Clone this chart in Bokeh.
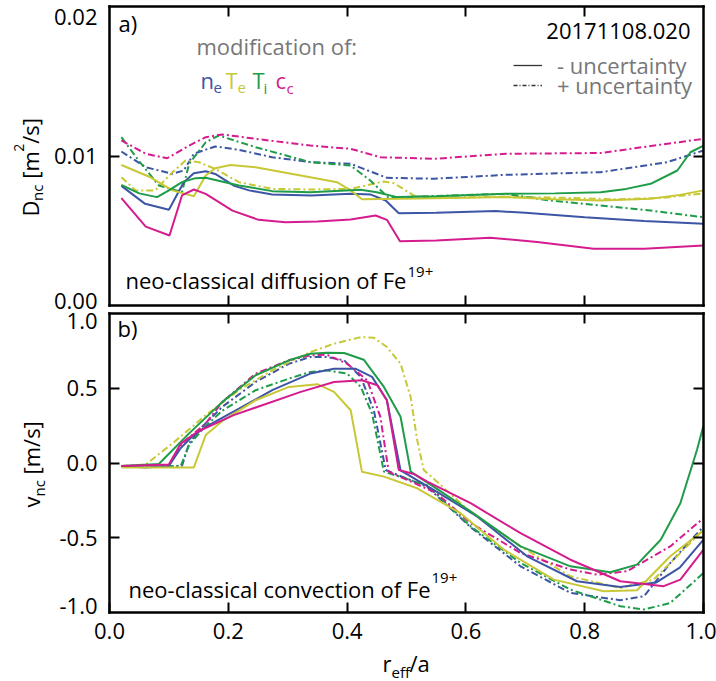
from math import pi, nan
from bokeh.plotting import figure
from bokeh.models import (Range1d, FixedTicker, LinearAxis, Label, Legend, LegendItem,
                          NumeralTickFormatter)
from bokeh.embed import file_html
from bokeh.resources import INLINE

# ---------------- data: panel a) neo-classical diffusion D_nc [m^2/s] ----------------
x_D_ne_minus = [0.02, 0.06, 0.10, 0.125, 0.142, 0.162, 0.178, 0.21, 0.235, 0.274, 0.34, 0.406, 0.44, 0.465, 0.487, 0.55, 0.65, 0.70, 0.80, 0.90, 1.0]
D_ne_minus = [0.0080, 0.0068, 0.0064, 0.00825, 0.00885, 0.00898, 0.0088, 0.0080, 0.0077, 0.00742, 0.00736, 0.00747, 0.00742, 0.00702, 0.00617, 0.0062, 0.00632, 0.0062, 0.0059, 0.00565, 0.00546]

x_D_Te_minus = [0.02, 0.066, 0.106, 0.142, 0.162, 0.178, 0.204, 0.246, 0.338, 0.383, 0.406, 0.425, 0.49, 0.6, 0.667, 0.75, 0.827, 0.911, 0.96, 1.0]
D_Te_minus = [0.0094, 0.00863, 0.0077, 0.00731, 0.0087, 0.00918, 0.0094, 0.00925, 0.00858, 0.00825, 0.0077, 0.00711, 0.00714, 0.0072, 0.00725, 0.0071, 0.00702, 0.00714, 0.0074, 0.0077]

x_D_Ti_minus = [0.02, 0.05, 0.08, 0.10, 0.122, 0.145, 0.162, 0.218, 0.274, 0.338, 0.423, 0.45, 0.484, 0.55, 0.667, 0.75, 0.827, 0.87, 0.911, 0.956, 0.978, 1.0]
D_Ti_minus = [0.00807, 0.0075, 0.00725, 0.0077, 0.00825, 0.00852, 0.00854, 0.00803, 0.00765, 0.00758, 0.00774, 0.00758, 0.00725, 0.0073, 0.00747, 0.0075, 0.00758, 0.0078, 0.00814, 0.00903, 0.01025, 0.0107]

x_D_cc_minus = [0.02, 0.061, 0.101, 0.122, 0.142, 0.162, 0.207, 0.251, 0.296, 0.35, 0.406, 0.448, 0.467, 0.489, 0.55, 0.641, 0.72, 0.815, 0.9, 1.0]
D_cc_minus = [0.00718, 0.00528, 0.00468, 0.00736, 0.00776, 0.00747, 0.00635, 0.00573, 0.00557, 0.00562, 0.00575, 0.00602, 0.00573, 0.0043, 0.00435, 0.00453, 0.00425, 0.00379, 0.00379, 0.00401]

x_D_ne_plus = [0.02, 0.061, 0.106, 0.125, 0.142, 0.178, 0.218, 0.274, 0.338, 0.406, 0.467, 0.546, 0.667, 0.827, 0.939, 1.0]
D_ne_plus = [0.0103, 0.00925, 0.00881, 0.00903, 0.01015, 0.01064, 0.01041, 0.00992, 0.00959, 0.00948, 0.00854, 0.00848, 0.00874, 0.00892, 0.00959, 0.01037]

x_D_Te_plus = [0.02, 0.044, 0.077, 0.106, 0.128, 0.15, 0.178, 0.218, 0.274, 0.338, 0.406, 0.462, 0.479, 0.512, 0.546, 0.667, 0.77, 0.85, 0.93, 1.0]
D_Te_plus = [0.00858, 0.0077, 0.0077, 0.00892, 0.0097, 0.00959, 0.00914, 0.00825, 0.0078, 0.00776, 0.0078, 0.0083, 0.00818, 0.00736, 0.0072, 0.00729, 0.0072, 0.0071, 0.0072, 0.0075]

x_D_Ti_plus = [0.02, 0.049, 0.083, 0.122, 0.134, 0.162, 0.184, 0.246, 0.338, 0.406, 0.439, 0.47, 0.518, 0.667, 0.742, 0.827, 0.911, 1.0]
D_Ti_plus = [0.01126, 0.0097, 0.00803, 0.00758, 0.00948, 0.01092, 0.01137, 0.01059, 0.00959, 0.00936, 0.00836, 0.0072, 0.00729, 0.00747, 0.00702, 0.00669, 0.00635, 0.0059]

x_D_cc_plus = [0.02, 0.061, 0.097, 0.134, 0.162, 0.19, 0.246, 0.338, 0.406, 0.456, 0.546, 0.667, 0.827, 0.939, 1.0]
D_cc_plus = [0.01104, 0.01015, 0.00985, 0.0107, 0.01126, 0.01144, 0.01115, 0.0107, 0.01048, 0.00992, 0.00981, 0.01015, 0.0102, 0.01082, 0.01115]

# ---------------- data: panel b) neo-classical convection v_nc [m/s] ----------------
x_v_ne_minus = [0.02, 0.06, 0.10, 0.12, 0.14, 0.162, 0.218, 0.274, 0.338, 0.378, 0.414, 0.442, 0.467, 0.49, 0.55, 0.619, 0.703, 0.787, 0.86, 0.92, 0.96, 1.0]
v_ne_minus = [-0.02, -0.03, -0.02, 0.10, 0.18, 0.242, 0.364, 0.487, 0.598, 0.631, 0.631, 0.576, 0.42, -0.05, -0.19, -0.358, -0.624, -0.791, -0.83, -0.80, -0.70, -0.513]

x_v_Te_minus = [0.02, 0.08, 0.142, 0.162, 0.192, 0.246, 0.302, 0.35, 0.378, 0.406, 0.425, 0.462, 0.518, 0.591, 0.664, 0.748, 0.832, 0.888, 0.944, 1.0]
v_Te_minus = [-0.03, -0.03, -0.03, 0.187, 0.287, 0.42, 0.509, 0.527, 0.476, 0.353, -0.058, -0.091, -0.169, -0.336, -0.58, -0.78, -0.858, -0.851, -0.624, -0.45]

x_v_Ti_minus = [0.02, 0.083, 0.134, 0.19, 0.246, 0.302, 0.338, 0.366, 0.395, 0.428, 0.462, 0.49, 0.507, 0.55, 0.608, 0.692, 0.776, 0.843, 0.888, 0.928, 0.961, 0.989, 1.0]
v_Ti_minus = [-0.02, -0.007, 0.198, 0.409, 0.587, 0.687, 0.731, 0.738, 0.736, 0.691, 0.509, 0.309, -0.058, -0.17, -0.324, -0.558, -0.691, -0.731, -0.68, -0.513, -0.269, 0.087, 0.25]

x_v_cc_minus = [0.02, 0.10, 0.12, 0.148, 0.209, 0.322, 0.378, 0.425, 0.451, 0.467, 0.487, 0.512, 0.535, 0.608, 0.692, 0.776, 0.86, 0.933, 0.961, 1.0]
v_cc_minus = [-0.02, -0.01, 0.13, 0.209, 0.32, 0.476, 0.542, 0.553, 0.52, 0.42, -0.047, -0.073, -0.124, -0.269, -0.469, -0.647, -0.791, -0.824, -0.78, -0.58]

x_v_ne_plus = [0.02, 0.122, 0.134, 0.156, 0.19, 0.246, 0.302, 0.338, 0.366, 0.395, 0.423, 0.445, 0.465, 0.535, 0.608, 0.692, 0.776, 0.86, 0.9, 0.944, 1.0]
v_ne_plus = [-0.02, -0.02, 0.131, 0.242, 0.376, 0.542, 0.664, 0.709, 0.709, 0.687, 0.576, 0.353, -0.047, -0.16, -0.43, -0.691, -0.869, -0.918, -0.891, -0.669, -0.424]

x_v_Te_plus = [0.02, 0.061, 0.106, 0.162, 0.218, 0.274, 0.338, 0.378, 0.423, 0.445, 0.467, 0.49, 0.507, 0.518, 0.529, 0.55, 0.608, 0.692, 0.776, 0.86, 0.916, 1.0]
v_Te_plus = [-0.02, -0.01, 0.131, 0.32, 0.487, 0.62, 0.742, 0.798, 0.842, 0.838, 0.776, 0.664, 0.442, 0.153, -0.047, -0.12, -0.33, -0.558, -0.758, -0.836, -0.78, -0.447]

x_v_Ti_plus = [0.02, 0.12, 0.134, 0.16, 0.19, 0.246, 0.302, 0.338, 0.366, 0.4, 0.423, 0.442, 0.462, 0.535, 0.608, 0.692, 0.776, 0.86, 0.9, 0.944, 1.0]
v_Ti_plus = [-0.02, -0.02, 0.12, 0.24, 0.35, 0.487, 0.564, 0.609, 0.62, 0.598, 0.509, 0.331, -0.058, -0.15, -0.424, -0.669, -0.847, -0.958, -0.98, -0.936, -0.736]

x_v_cc_plus = [0.02, 0.10, 0.122, 0.162, 0.19, 0.246, 0.302, 0.338, 0.366, 0.4, 0.434, 0.456, 0.47, 0.55, 0.608, 0.692, 0.776, 0.821, 0.871, 0.944, 1.0]
v_cc_plus = [-0.02, -0.015, 0.131, 0.264, 0.409, 0.598, 0.687, 0.72, 0.724, 0.664, 0.553, 0.309, -0.058, -0.2, -0.402, -0.602, -0.713, -0.747, -0.724, -0.558, -0.369]

# ticks
x_ticks = [0.0, 0.2, 0.4, 0.6, 0.8, 1.0]
x_inner_ticks = [0.2, 0.4, 0.6, 0.8]
D_ticks = [0.01]
v_ticks = [-0.5, 0.0, 0.5]

# ---------------- layout constants (pixels) ----------------
W, H = 716, 681
FX0, FX1 = 109, 703          # panel frames, left/right
A_TOP, A_BOT = 6, 305        # panel a frame top/bottom
B_TOP, B_BOT = 313, 612      # panel b frame top/bottom
D_MAX = 0.02
V_MIN, V_MAX = -1.0, 1.0

C_NE, C_TE, C_TI, C_CC = "#3c55a5", "#c8c836", "#1f9c48", "#d41c8e"
GRAY = "#777777"
FONT = "Open Sans"
DASH = "7 3 2 3"

xs_per_px = 1.0 / (FX1 - FX0)
d_per_px = D_MAX / (A_BOT - A_TOP)
v_per_px = (V_MAX - V_MIN) / (B_BOT - B_TOP)

p = figure(width=W, height=H, output_backend="svg", toolbar_location=None,
           x_axis_type=None, y_axis_type=None, min_border=0,
           x_range=Range1d(-FX0 * xs_per_px, 1.0 + (W - FX1) * xs_per_px),
           y_range=Range1d(-(H - A_BOT) * d_per_px, D_MAX + A_TOP * d_per_px))
p.extra_y_ranges = {"v": Range1d(V_MIN - (H - B_BOT) * v_per_px, V_MAX + B_TOP * v_per_px)}
p.outline_line_color = None
p.background_fill_color = "white"
p.border_fill_color = "white"
p.min_border_left = p.min_border_right = p.min_border_top = p.min_border_bottom = 0


def axis(side, loc, bounds, ticks, labels=False, rng="default", fmt="0.0", standoff=12):
    ax = LinearAxis(fixed_location=loc, bounds=bounds, ticker=FixedTicker(ticks=ticks),
                    y_range_name=rng,
                    axis_line_color="black", axis_line_width=2.5, axis_line_cap="square",
                    major_tick_in=10, major_tick_out=0, major_tick_line_width=2,
                    major_tick_line_color="black", minor_tick_line_color=None,
                    major_label_text_font=FONT, major_label_text_font_size="22px",
                    major_label_standoff=standoff, formatter=NumeralTickFormatter(format=fmt))
    ax.major_label_text_color = "black" if labels else None
    p.add_layout(ax, side)


# panel a box + ticks
axis("left", 0.0, (0.0, D_MAX), D_ticks, labels=True, fmt="0.00")
axis("right", 1.0, (0.0, D_MAX), D_ticks)
axis("below", 0.0, (0.0, 1.0), x_inner_ticks)
axis("above", D_MAX, (0.0, 1.0), x_inner_ticks)
# panel b box + ticks
axis("left", 0.0, (V_MIN, V_MAX), v_ticks, labels=True, rng="v")
axis("right", 1.0, (V_MIN, V_MAX), v_ticks, rng="v")
axis("below", V_MIN, (0.0, 1.0), x_ticks, labels=True, rng="v", standoff=10)
axis("above", V_MAX, (0.0, 1.0), x_inner_ticks, rng="v")

# curves panel a
for xs, ys, c in ((x_D_ne_plus, D_ne_plus, C_NE), (x_D_Te_plus, D_Te_plus, C_TE),
                  (x_D_Ti_plus, D_Ti_plus, C_TI), (x_D_cc_plus, D_cc_plus, C_CC)):
    p.line(xs, ys, line_color=c, line_width=2, line_dash=DASH)
for xs, ys, c in ((x_D_ne_minus, D_ne_minus, C_NE), (x_D_Te_minus, D_Te_minus, C_TE),
                  (x_D_Ti_minus, D_Ti_minus, C_TI), (x_D_cc_minus, D_cc_minus, C_CC)):
    p.line(xs, ys, line_color=c, line_width=2)
# curves panel b
for xs, ys, c in ((x_v_ne_plus, v_ne_plus, C_NE), (x_v_Te_plus, v_Te_plus, C_TE),
                  (x_v_Ti_plus, v_Ti_plus, C_TI), (x_v_cc_plus, v_cc_plus, C_CC)):
    p.line(xs, ys, line_color=c, line_width=2, line_dash=DASH, y_range_name="v")
for xs, ys, c in ((x_v_ne_minus, v_ne_minus, C_NE), (x_v_Te_minus, v_Te_minus, C_TE),
                  (x_v_Ti_minus, v_Ti_minus, C_TI), (x_v_cc_minus, v_cc_minus, C_CC)):
    p.line(xs, ys, line_color=c, line_width=2, y_range_name="v")

MID = 0.36  # distance baseline -> text middle, in em


def lab(text, px, pb, size=22, color="black", align="left", rotated=False):
    """px, pb: page pixels from the top-left; pb = baseline (x of baseline if rotated)."""
    if rotated:
        sx, sy, ang = pb - MID * size, H - px, pi / 2
    else:
        sx, sy, ang = px, H - (pb - MID * size), 0.0
    p.add_layout(Label(x=sx, y=sy, x_units="screen", y_units="screen", text=text,
                       text_font=FONT, text_font_size=f"{size}px", text_color=color,
                       text_align=align, text_baseline="middle", angle=ang))


def mid(text, px, pm, size=22, align="right"):
    p.add_layout(Label(x=px, y=H - pm, x_units="screen", y_units="screen", text=text,
                       text_font=FONT, text_font_size=f"{size}px", text_color="black",
                       text_align=align, text_baseline="middle"))


# edge tick labels (nudged inward, as in the original)
mid("0.02", 97, 16)
mid("0.00", 97, 300)
mid("1.0", 97, 320)
mid("-1.0", 97, 605)

# y label  D_nc [m^2/s]  (rotated, reading upwards; px = start along the page's y)
lab("D", 216, 37, rotated=True)
lab("nc", 200.4, 42, size=15, rotated=True)
lab("[m", 178.3, 37, rotated=True)
lab("2", 151.3, 24, size=14, rotated=True)
lab("/s]", 143.3, 37, rotated=True)

# y label  v_nc [m/s]
lab("v", 507, 38, rotated=True)
lab("nc", 496, 44, size=15, rotated=True)
lab("[m/s]", 474, 38, rotated=True)

# x label  r_eff/a
lab("r", 382, 670)
lab("eff", 391, 677, size=15)
lab("/a", 409, 670)

# panel a annotations
lab("a)", 118, 30)
lab("modification of:", 196, 53, color=GRAY)
lab("n", 200, 87, color=C_NE)
lab("e", 213, 93, size=15, color=C_NE)
lab("T", 225, 87, color=C_TE)
lab("e", 237, 93, size=15, color=C_TE)
lab("T", 252, 87, color=C_TI)
lab("i", 263, 93, size=15, color=C_TI)
lab("c", 275, 87, color=C_CC)
lab("c", 286, 93, size=15, color=C_CC)
lab("20171108.020", 690, 38, align="right")
lab("neo-classical diffusion of Fe", 125, 287)
lab("19+", 407, 277, size=15)

# panel b annotations
lab("b)", 117, 335)
lab("neo-classical convection of Fe", 128, 596)
lab("19+", 431, 583, size=15)

# line-style key (two one-row legends so the rows sit close together)
r_solid = p.line([nan], [nan], line_color="#333333", line_width=1.3)
r_dash = p.line([nan], [nan], line_color="#333333", line_width=1.3, line_dash="4 2 1 2")
for item, r, ybot in (("- uncertainty", r_solid, H - 80), ("+ uncertainty", r_dash, H - 100)):
    lg = Legend(items=[LegendItem(label=item, renderers=[r])],
                location=(513, ybot), padding=0, margin=0, spacing=0,
                glyph_width=29, glyph_height=20, label_standoff=15,
                label_text_font=FONT, label_text_font_size="22px", label_text_color=GRAY,
                background_fill_alpha=0, border_line_color=None)
    p.add_layout(lg)

open("out.html", "w").write(file_html(p, INLINE))
